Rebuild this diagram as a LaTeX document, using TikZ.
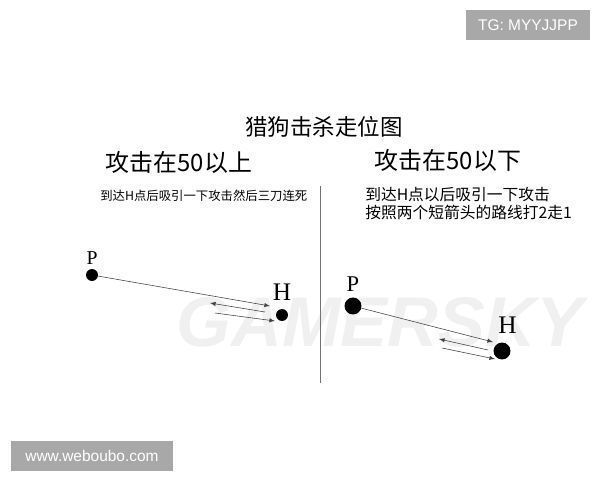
\documentclass[tikz,border=0pt]{standalone}
\usepackage{fontspec}
\setmainfont{Liberation Serif}
\newfontfamily\cjk{Noto Sans CJK SC}
\newfontfamily\wmfont{Liberation Sans}
\usepackage{tikz}
\usetikzlibrary{arrows, positioning}
\usepackage{xcolor}
\definecolor{boxgray}{HTML}{A8A8A8}

\tikzset{
	dot/.style={circle, fill=black, inner sep=0pt},
	route/.style={-latex, draw=black!75, thin},
	tag/.style={fill=boxgray, text=white, inner sep=0pt, font=\wmfont\fontsize{11}{11}\selectfont}
}

\begin{document}
\begin{tikzpicture}[x=0.025cm, y=-0.025cm]
				\useasboundingbox (0,0) rectangle (600,480);
				% watermark
				\node[text=black!6, font=\wmfont\bfseries\itshape\fontsize{50}{50}\selectfont] (mark) at (380,322) {GAMERSKY};
				% headings
				\node[font=\cjk\fontsize{16}{16}\selectfont] (title) at (324,127) {猎狗击杀走位图};
				\node[font=\cjk\fontsize{17}{17}\selectfont] (upper) at (179,162) {攻击在50以上};
				\node[font=\cjk\fontsize{17}{17}\selectfont] (lower) at (448,160) {攻击在50以下};
				\node[font=\cjk\fontsize{8.8}{10}\selectfont, anchor=west, inner sep=0pt] (tipL) at (100,196) {到达H点后吸引一下攻击然后三刀连死};
				\node[font=\cjk\fontsize{11.2}{13}\selectfont, anchor=north west, inner sep=0pt, align=left] (tipR) at (365,187) {到达H点以后吸引一下攻击\\按照两个短箭头的路线打2走1};
				\draw[black!55] (320,186) -- (320,383);
				% left case
				\node[dot, minimum size=12pt*0.709] (pL) at (92,275) {};
				\node[dot, minimum size=12pt*0.709] (hL) at (282,315) {};
				\node[above=3pt of pL, font=\fontsize{14}{14}\selectfont, inner sep=0pt] (pLlab) {P};
				\node[above=6pt of hL, font=\fontsize{18}{18}\selectfont, inner sep=0pt] (hLlab) {H};
				\coordinate (aL) at (270,306);
				\coordinate (bL1) at (265,312);
				\coordinate (bL2) at (210,303);
				\coordinate (cL1) at (215,313);
				\coordinate (cL2) at (275,321);
				\draw[route] (pL) -- (aL);
				\draw[route] (bL1) -- (bL2);
				\draw[route] (cL1) -- (cL2);
				% right case
				\node[dot, minimum size=17pt*0.709] (pR) at (353,306) {};
				\node[dot, minimum size=17pt*0.709] (hR) at (502,351) {};
				\node[above=4pt of pR, font=\fontsize{16}{16}\selectfont, inner sep=0pt] (pRlab) {P};
				\node[above=6pt of hR, xshift=4pt, font=\fontsize{18}{18}\selectfont, inner sep=0pt] (hRlab) {H};
				\coordinate (aR) at (493,342);
				\coordinate (bR1) at (488,350);
				\coordinate (bR2) at (439,339);
				\coordinate (cR1) at (442,348);
				\coordinate (cR2) at (495,359);
				\draw[route] (pR) -- (aR);
				\draw[route] (bR1) -- (bR2);
				\draw[route] (cR1) -- (cR2);
				% corner tags
				\node[tag, minimum width=125*0.709pt, minimum height=31*0.709pt] (tg) at (528,25) {TG: MYYJJPP};
				\node[tag, minimum width=162*0.709pt, minimum height=30*0.709pt] (web) at (92,456) {www.weboubo.com};
			\end{tikzpicture}
\end{document}
